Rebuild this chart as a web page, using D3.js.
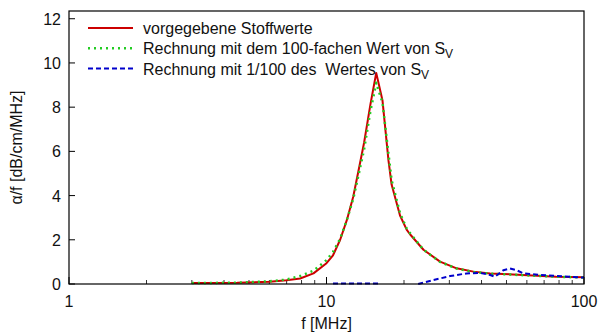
<!DOCTYPE html>
<html>
<head>
<meta charset="utf-8">
<script src="https://cdn.jsdelivr.net/npm/d3@7"></script>
<style>
  body { margin: 0; background: #fff; }
  svg text { font-family: "Liberation Sans", Arial, sans-serif; fill: #111; }
</style>
</head>
<body>
<svg width="598" height="336"></svg>
<script>
// values (f in MHz, alpha/f in dB/cm/MHz)
const fGiven   = [3.0, 4.5, 6.0, 7.0, 7.9, 8.9, 10.0, 10.6, 11.3, 12.0, 12.7, 13.3, 14.0, 14.8, 15.6, 16.5, 17.4, 17.9, 19.3, 20.5, 21.1, 23.8, 27.6, 32, 37.2, 43.2, 58, 78, 100];
const vGiven   = [0.05, 0.06, 0.1, 0.17, 0.25, 0.48, 0.94, 1.3, 2.0, 2.9, 3.95, 5.1, 6.4, 8.1, 9.55, 8.3, 5.6, 4.5, 3.1, 2.45, 2.25, 1.55, 1.01, 0.71, 0.56, 0.48, 0.41, 0.33, 0.30];
const vTimes100 = [0.04, 0.06, 0.12, 0.2, 0.36, 0.6, 1.08, 1.45, 2.05, 2.9, 3.85, 4.9, 6.1, 7.8, 9.1, 8.2, 5.9, 4.7, 3.2, 2.5, 2.3, 1.55, 1.0, 0.7, 0.54, 0.47, 0.4, 0.33, 0.29];
// 1/100 case: null where no curve is drawn
const fDiv100 = [10.6, 12, 14, 15.9, 19, 22.7, 26, 30.2, 35, 39.5, 43.2, 45.1, 48.6, 51.6, 54.8, 58.1, 67.5, 78.3, 100];
const vDiv100 = [0.02, 0.02, 0.02, 0.02, null, 0, 0.18, 0.36, 0.48, 0.5, 0.41, 0.33, 0.62, 0.7, 0.62, 0.48, 0.41, 0.36, 0.29];

const yTicks = [0, 2, 4, 6, 8, 10, 12];
const xTicks = [1, 10, 100];

const svg = d3.select("svg");
const m = { left: 69, right: 584, top: 11, bottom: 284 };

const x = d3.scaleLog().domain([1, 100]).range([m.left, m.right]);
const y = d3.scaleLinear().domain([0, 12.35]).range([m.bottom, m.top]);

// minor ticks on the x axis
const minor = [];
[1, 10].forEach(d => { for (let k = 2; k <= 9; k++) minor.push(d * k); });

const axisG = svg.append("g");
axisG.selectAll("line.minor").data(minor).enter().append("line")
    .attr("x1", d => x(d)).attr("x2", d => x(d))
    .attr("y1", m.bottom).attr("y2", m.bottom - 4)
    .attr("stroke", "#333").attr("stroke-width", 1);
axisG.selectAll("line.xmaj").data(xTicks).enter().append("line")
    .attr("x1", d => x(d)).attr("x2", d => x(d))
    .attr("y1", m.bottom).attr("y2", m.bottom - 7)
    .attr("stroke", "#000").attr("stroke-width", 1);
axisG.selectAll("line.ymaj").data(yTicks).enter().append("line")
    .attr("x1", m.left).attr("x2", m.left + 6)
    .attr("y1", d => y(d)).attr("y2", d => y(d))
    .attr("stroke", "#000").attr("stroke-width", 1);

axisG.selectAll("text.xl").data(xTicks).enter().append("text")
    .attr("x", d => x(d)).attr("y", m.bottom + 23)
    .attr("text-anchor", "middle").attr("font-size", 16)
    .text(d => d);
axisG.selectAll("text.yl").data(yTicks).enter().append("text")
    .attr("x", m.left - 8).attr("y", d => y(d) + 6)
    .attr("text-anchor", "end").attr("font-size", 16)
    .text(d => d);

svg.append("text")
    .attr("x", (m.left + m.right) / 2).attr("y", 329)
    .attr("text-anchor", "middle").attr("font-size", 16)
    .text("f [MHz]");
svg.append("text")
    .attr("transform", `translate(22, ${(m.top + m.bottom) / 2}) rotate(-90)`)
    .attr("text-anchor", "middle").attr("font-size", 16)
    .text("α/f [dB/cm/MHz]");

// curves
const line = d3.line()
    .defined(d => d[1] != null)
    .x(d => x(d[0])).y(d => y(d[1]));

const series = [
    { f: fGiven, v: vGiven, color: "#cc0000", dash: null, width: 2 },
    { f: fGiven, v: vTimes100, color: "#22cc22", dash: "2,4", width: 2.5 },
    { f: fDiv100, v: vDiv100, color: "#0000cc", dash: "5,3", width: 2 }
];

series.forEach(s => {
    svg.append("path")
        .datum(s.f.map((f, i) => [f, s.v[i]]))
        .attr("d", line)
        .attr("fill", "none")
        .attr("stroke", s.color)
        .attr("stroke-width", s.width)
        .attr("stroke-dasharray", s.dash)
        .attr("stroke-linejoin", "round");
});

// frame
svg.append("rect")
    .attr("x", m.left).attr("y", m.top)
    .attr("width", m.right - m.left).attr("height", m.bottom - m.top)
    .attr("fill", "none").attr("stroke", "#000").attr("stroke-width", 1.2);

// legend
const legend = [
    { label: "vorgegebene Stoffwerte", sub: null },
    { label: "Rechnung mit dem 100-fachen Wert von S", sub: "V" },
    { label: "Rechnung mit 1/100 des  Wertes von S", sub: "V" }
];
const leg = svg.append("g");
legend.forEach((d, i) => {
    const yy = 28 + i * 20.3;
    const s = series[i];
    leg.append("line")
        .attr("x1", 88).attr("x2", 133).attr("y1", yy).attr("y2", yy)
        .attr("stroke", s.color).attr("stroke-width", s.width)
        .attr("stroke-dasharray", s.dash);
    const t = leg.append("text")
        .attr("x", 143).attr("y", yy + 6)
        .attr("font-size", 16)
        .style("white-space", "pre");
    t.append("tspan").text(d.label);
    if (d.sub) {
        t.append("tspan").attr("dy", 4).attr("font-size", 12).text(d.sub);
    }
});
</script>
</body>
</html>
